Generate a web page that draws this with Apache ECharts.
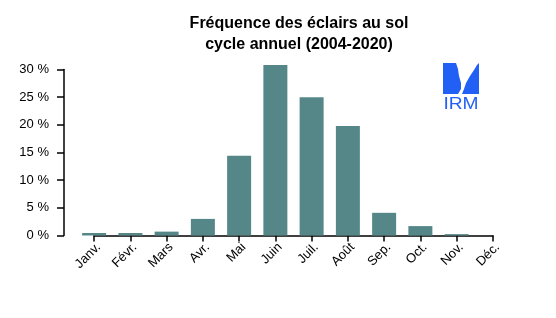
<!DOCTYPE html>
<html>
<head>
<meta charset="utf-8">
<script src="https://cdn.jsdelivr.net/npm/echarts@6/dist/echarts.min.js"></script>
<style>
  html, body { margin: 0; padding: 0; background: #fff; }
  #chart { width: 556px; height: 318px; }
</style>
</head>
<body>
<div id="chart"></div>
<script>
const months = ['Janv.', 'Févr.', 'Mars', 'Avr.', 'Mai', 'Juin', 'Juil.', 'Août', 'Sep.', 'Oct.', 'Nov.', 'Déc.'];
const freq = [0.45, 0.45, 0.7, 3.0, 14.4, 30.8, 25.0, 19.8, 4.1, 1.7, 0.25, 0];
const yTicks = [0, 5, 10, 15, 20, 25, 30];

const font = '"Liberation Sans", Arial, Helvetica, sans-serif';
const barColor = '#558789';
const logoBlue = '#2260f5';

const chart = echarts.init(document.getElementById('chart'));

const plotTop = 69.5;
const plotBottom = 82.5;

chart.setOption({
    animation: false,
    title: {
        text: 'Fréquence des éclairs au sol\ncycle annuel (2004-2020)',
        left: 294,
        top: 8,
        textAlign: 'center',
        textStyle: {
            fontFamily: font,
            fontSize: 16,
            fontWeight: 'bold',
            color: '#000',
            lineHeight: 21,
        },
    },
    grid: [
        {left: 76, right: 45, top: plotTop, bottom: plotBottom},
        // second grid only carries the R-style x axis (Janv. -> Déc.)
        {left: 94, right: 63, top: plotTop, bottom: plotBottom},
    ],
    xAxis: [
        {
            gridIndex: 0,
            type: 'category',
            data: months,
            axisLine: {show: false},
            axisTick: {show: false},
            axisLabel: {show: false},
        },
        {
            gridIndex: 1,
            type: 'category',
            data: months,
            boundaryGap: false,
            offset: 1,
            axisLine: {show: true, lineStyle: {color: '#000', width: 1.5}},
            axisTick: {show: true, length: 6, lineStyle: {color: '#000', width: 1.5}},
            axisLabel: {
                show: true,
                interval: 0,
                rotate: 45,
                margin: 4,
                verticalAlign: 'top',
                fontFamily: font,
                fontSize: 13,
                color: '#000',
            },
        },
    ],
    yAxis: [
        {
            gridIndex: 0,
            type: 'value',
            min: 0,
            max: 30,
            interval: 5,
            offset: 12,
            axisLine: {show: true, lineStyle: {color: '#000', width: 1.5}},
            axisTick: {show: true, length: 7, lineStyle: {color: '#000', width: 1.5}},
            splitLine: {show: false},
            axisLabel: {
                margin: 15,
                fontFamily: font,
                fontSize: 13,
                color: '#000',
                formatter: v => yTicks.includes(v) ? v + ' %' : '',
            },
        },
        {
            gridIndex: 1,
            type: 'value',
            min: 0,
            max: 30,
            show: false,
        },
    ],
    series: [{
        type: 'bar',
        xAxisIndex: 0,
        yAxisIndex: 0,
        data: freq,
        barWidth: 24,
        clip: false,
        itemStyle: {color: barColor},
        silent: true,
    }],
    graphic: [
        {
            type: 'group',
            left: 443,
            top: 63,
            children: [
                {
                    type: 'polygon',
                    shape: {points: [[0, 0], [13, 0], [15, 6], [16, 13], [18, 20], [18, 26], [15, 31], [0, 31]]},
                    style: {fill: logoBlue},
                },
                {
                    type: 'polygon',
                    shape: {points: [[36, 0], [36, 31], [19, 31], [21, 26], [23, 20], [27, 13], [31, 7], [34, 2]]},
                    style: {fill: logoBlue},
                },
                {
                    type: 'text',
                    x: 18,
                    y: 34,
                    scaleX: 1.2,
                    style: {
                        text: 'IRM',
                        fill: logoBlue,
                        fontFamily: font,
                        fontSize: 16,
                        align: 'center',
                        verticalAlign: 'top',
                    },
                },
            ],
        },
    ],
});
</script>
</body>
</html>
